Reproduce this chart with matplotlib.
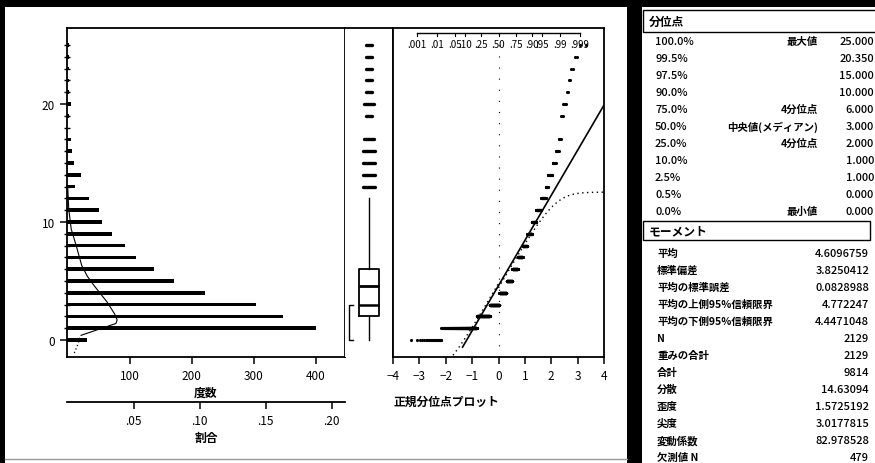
import statistics

import matplotlib
matplotlib.use("Agg")
import matplotlib.pyplot as plt
from matplotlib.patches import Rectangle

plt.rcParams["font.family"] = ["Noto Sans CJK JP", "DejaVu Sans"]

W, H = 875, 464

# Histogram: count per integer value
VALUES = list(range(26))
COUNTS = [31, 400, 347, 303, 221, 171, 140, 110, 92, 71, 56, 50, 34,
          12, 22, 11, 8, 5, 0, 3, 5, 2, 2, 2, 2, 2]

# Fitted density curve over the histogram (value, count scale)
CURVE_VALUE = [-1.1, -0.6, 0.0, 0.4, 1.4, 1.7, 2.2, 3.2, 4.6, 5.4, 6.3, 8.0, 9.4, 11.1, 12.8]
CURVE_COUNT = [11, 15, 19, 22, 78, 80, 76, 64, 43, 32, 23, 14, 6, 2, 0.5]

# Box plot summary
BOX_Q1, BOX_MEDIAN, BOX_Q3 = 2, 3, 6
WHISKER_LO, WHISKER_HI = 0, 12
SHORTEST_HALF = (0, 3)
MEAN = 4.6096759
STD = 3.8250412
N_STAT = 2129

COUNT_TICKS = [100, 200, 300, 400]
PROP_TICKS = [0.05, 0.10, 0.15, 0.20]
PROP_LABELS = [".05", ".10", ".15", ".20"]
Z_TICKS = [-4, -3, -2, -1, 0, 1, 2, 3, 4]
PROB_TICKS = [0.001, 0.01, 0.05, 0.10, 0.25, 0.50, 0.75, 0.90, 0.95, 0.99, 0.999]
PROB_LABELS = [".001", ".01", ".05", ".10", ".25", ".50", ".75", ".90", ".95", ".99", ".999"]

# Report tables
QUANTILE_PCTS = ["100.0%", "99.5%", "97.5%", "90.0%", "75.0%", "50.0%",
                 "25.0%", "10.0%", "2.5%", "0.5%", "0.0%"]
QUANTILE_NAMES = ["最大値", "", "", "", "4分位点", "中央値(メディアン)",
                  "4分位点", "", "", "", "最小値"]
QUANTILE_VALUES = ["25.000", "20.350", "15.000", "10.000", "6.000", "3.000",
                   "2.000", "1.000", "1.000", "0.000", "0.000"]
MOMENT_NAMES = ["平均", "標準偏差", "平均の標準誤差", "平均の上側95%信頼限界",
                "平均の下側95%信頼限界", "N", "重みの合計", "合計", "分散",
                "歪度", "尖度", "変動係数", "欠測値 N"]
MOMENT_VALUES = ["4.6096759", "3.8250412", "0.0828988", "4.772247", "4.4471048",
                 "2129", "2129", "9814", "14.63094", "1.5725192", "3.0177815",
                 "82.978528", "479"]

YLIM = (-1.44, 26.44)
LW = 1.3


def rect(x0, y0, x1, y1):
    """Pixel box (top-left origin) -> figure fraction rect."""
    return [x0 / W, 1 - y1 / H, (x1 - x0) / W, (y1 - y0) / H]


fig = plt.figure(figsize=(W / 100, H / 100), dpi=100, facecolor="black")

# background / panels in pixel coordinates
bg = fig.add_axes([0, 0, 1, 1], zorder=-1)
bg.set_xlim(0, W)
bg.set_ylim(H, 0)
bg.axis("off")
bg.add_patch(Rectangle((5, 8), 622, 456, facecolor="white", edgecolor="none"))
bg.add_patch(Rectangle((642, 8), 240, 456, facecolor="white", edgecolor="none"))
bg.plot([5, 627], [460, 460], color="#999999", lw=1)

# ---- histogram ----
ax_h = fig.add_axes(rect(67, 29, 345, 358))
ax_h.barh(VALUES, COUNTS, height=0.32, color="black")
ax_h.plot(CURVE_COUNT[:4], CURVE_VALUE[:4], color="black", lw=0.9, ls=(0, (1, 2)))
ax_h.plot(CURVE_COUNT[3:], CURVE_VALUE[3:], color="black", lw=0.8)
ax_h.set_xlim(-0.8, 447)
ax_h.set_ylim(*YLIM)
ax_h.set_xticks(COUNT_TICKS)
ax_h.set_yticks([0, 10, 20])
ax_h.set_yticks(VALUES, minor=True)
ax_h.tick_params(axis="both", which="major", direction="out", length=5, width=1.1,
                 labelsize=8.5)
ax_h.tick_params(axis="y", which="minor", direction="inout", length=5, width=1)
ax_h.set_xlabel("度数", fontsize=8.5, fontweight="bold", labelpad=3)
for s in ax_h.spines.values():
    s.set_linewidth(LW)

sec = ax_h.secondary_xaxis(-45 / 329, functions=(lambda c: c / N_STAT,
                                                 lambda p: p * N_STAT))
sec.set_xticks(PROP_TICKS, PROP_LABELS)
sec.tick_params(direction="out", length=5, width=1.1, labelsize=8.5)
sec.spines["bottom"].set_linewidth(LW)
sec.set_xlabel("割合", fontsize=8.5, fontweight="bold", labelpad=3)

# ---- box plot ----
ax_b = fig.add_axes(rect(345, 29, 393, 358))
ax_b.set_xlim(0, 1)
ax_b.set_ylim(*YLIM)
ax_b.bxp([{"med": BOX_MEDIAN, "q1": BOX_Q1, "q3": BOX_Q3,
           "whislo": WHISKER_LO, "whishi": WHISKER_HI, "fliers": []}],
         positions=[0.5], widths=0.42, showcaps=False, showfliers=False,
         boxprops=dict(color="black", lw=LW),
         medianprops=dict(color="black", lw=1.8),
         whiskerprops=dict(color="black", lw=1.0))
ax_b.hlines(MEAN, 0.29, 0.71, color="black", lw=2)
for v, c in zip(VALUES, COUNTS):
    if v > WHISKER_HI and c > 0:
        half = min(0.12, 0.035 + 0.012 * c)
        ax_b.plot([0.5 - half, 0.5 + half], [v, v], color="black", lw=2.4,
                  solid_capstyle="round")
lo, hi = SHORTEST_HALF
ax_b.plot([0.17, 0.09, 0.09, 0.17], [lo, lo, hi, hi], color="black", lw=1)
ax_b.set_xticks([])
ax_b.set_yticks([])
ax_b.spines["left"].set_visible(False)
ax_b.spines["bottom"].set_visible(False)
for s in ax_b.spines.values():
    s.set_linewidth(LW)

# ---- normal quantile plot ----
ax_q = fig.add_axes(rect(393, 29, 604, 358))
nd = statistics.NormalDist()
data = [v for v, c in zip(VALUES, COUNTS) for _ in range(c)]
n = len(data)
zs = [nd.inv_cdf((i + 1) / (n + 1)) for i in range(n)]
ax_q.scatter(zs, data, s=5, color="black", linewidths=0, zorder=3)

zline = [(-0.6 - MEAN) / STD, 4]
ax_q.plot(zline, [MEAN + STD * z for z in zline], color="black", lw=1.2)

d = 0.886 / N_STAT ** 0.5
z_grid = [i / 50 for i in range(-200, 201)]
up_z = [z for z in z_grid if z <= 0]
lo_z = [z for z in z_grid if z >= 0]
ax_q.plot(up_z, [MEAN + STD * nd.inv_cdf(nd.cdf(z) + d) for z in up_z],
          color="black", lw=1, ls=(0, (1, 2.5)))
ax_q.plot(lo_z, [MEAN + STD * nd.inv_cdf(nd.cdf(z) - d) for z in lo_z],
          color="black", lw=1, ls=(0, (1, 2.5)))
ax_q.axvline(0, color="black", lw=0.8, ls=(0, (1, 9)))

ax_q.set_xlim(-4, 4)
ax_q.set_ylim(*YLIM)
ax_q.set_xticks(Z_TICKS)
ax_q.set_yticks([])
ax_q.tick_params(axis="x", direction="out", length=5, width=1.1, labelsize=8.5)
for s in ax_q.spines.values():
    s.set_linewidth(LW)

# probability scale along the top, inside the frame
tr = ax_q.get_xaxis_transform()
pz = [nd.inv_cdf(p) for p in PROB_TICKS]
ax_q.plot([pz[0], pz[-1]], [0.986, 0.986], color="black", lw=1, transform=tr)
for z, lab in zip(pz, PROB_LABELS):
    ax_q.plot([z, z], [0.986, 0.976], color="black", lw=0.8, transform=tr)
    ax_q.text(z, 0.952, lab, transform=tr, ha="center", va="center", fontsize=7)

fig.text(393 / W, 1 - 402 / H, "正規分位点プロット", fontsize=8.5, fontweight="bold",
         ha="left", va="center")

# ---- report tables ----
bg.add_patch(Rectangle((643, 11), 240, 22, facecolor="white", edgecolor="black", lw=1))
bg.text(649, 22, "分位点", fontsize=8.5, fontweight="bold", va="center")
for i, (p, name, val) in enumerate(zip(QUANTILE_PCTS, QUANTILE_NAMES, QUANTILE_VALUES)):
    y = 42 + i * 17
    bg.text(655, y, p, fontsize=8, fontweight="medium", va="center")
    bg.text(818, y, name, fontsize=7.5, fontweight="bold", ha="right", va="center")
    bg.text(874, y, val, fontsize=8, fontweight="medium", ha="right", va="center")

bg.add_patch(Rectangle((643, 222), 227, 19, facecolor="white", edgecolor="black", lw=1))
bg.text(649, 231.5, "モーメント", fontsize=8.5, fontweight="bold", va="center")
for i, (name, val) in enumerate(zip(MOMENT_NAMES, MOMENT_VALUES)):
    y = 254 + i * 17
    bg.text(657, y, name, fontsize=7.5, fontweight="bold", va="center")
    bg.text(869, y, val, fontsize=8, fontweight="medium", ha="right", va="center")

fig.savefig("out.png", dpi=100, facecolor="black")
